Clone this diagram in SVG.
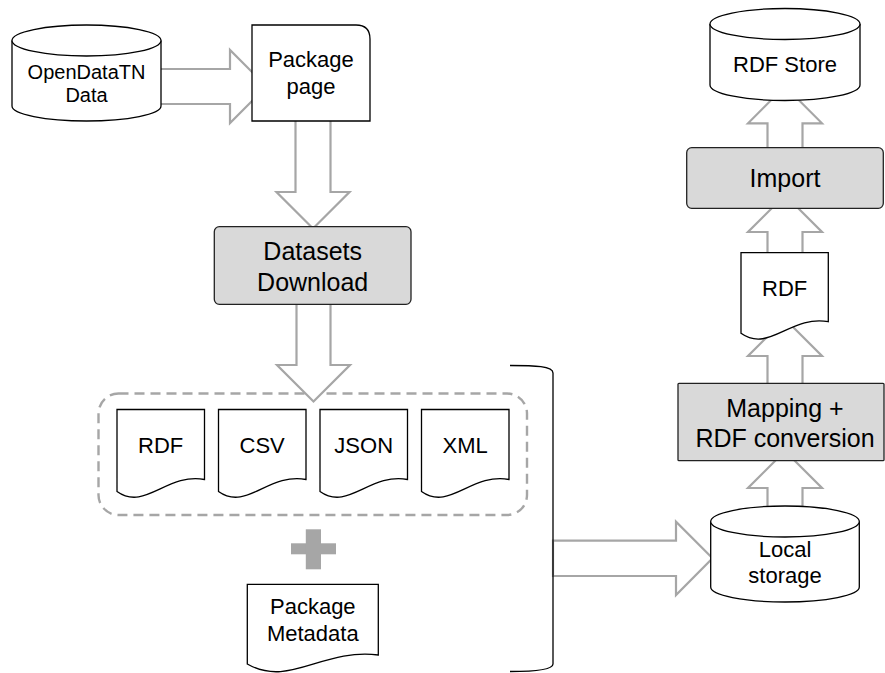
<svg xmlns="http://www.w3.org/2000/svg" width="885" height="673" viewBox="0 0 885 673">
<style>
.arr{fill:#fff;stroke:#a6a6a6;stroke-width:2.2;stroke-linejoin:miter}
.ln{fill:#fff;stroke:#000;stroke-width:1.3}
.box{fill:#d9d9d9;stroke:#222;stroke-width:1.3}
.t{font-family:"Liberation Sans",Arial,sans-serif;fill:#000;text-anchor:middle}
.s20{font-size:20px}
.s22{font-size:22px}
.s25{font-size:25px}
</style>
<rect width="885" height="673" fill="#fff"/>
<g id="group-dashed">
<rect x="98.5" y="393.5" width="428.5" height="121.5" rx="20" ry="20" fill="none" stroke="#a6a6a6" stroke-width="2.4" stroke-dasharray="10,6"/>
</g>
<g id="connectors">
<polygon class="arr" points="150,69 230,69 230,50 266.5,86.5 230,123 230,104 150,104"/>
<polygon class="arr" points="295.5,115 295.5,192 276.5,192 313,228.5 349.5,192 330.5,192 330.5,115"/>
<polygon class="arr" points="296.5,300 296.5,365 277,365 313.5,401.5 350,365 330.5,365 330.5,300"/>
<polygon class="arr" points="553,540.7 676,540.7 676,521.7 712.5,558.3 676,595 676,576 553,576"/>
<polygon class="arr" points="767.5,515 767.5,488 748,488 785,451 822,488 802.5,488 802.5,515"/>
<polygon class="arr" points="767.5,390 767.5,356 748,356 785,319 822,356 802.5,356 802.5,390"/>
<polygon class="arr" points="767.5,262 767.5,232 748,232 785,195 822,232 802.5,232 802.5,262"/>
<polygon class="arr" points="767.5,155 767.5,123.3 748,123.3 785,86.3 822,123.3 802.5,123.3 802.5,155"/>
<path d="M510,365.5 C535,365.5 553,366 553,373 V664 C553,670 535,671.5 510,671.5" fill="none" stroke="#000" stroke-width="1.3"/>
<g fill="#a6a6a6">
<rect x="291" y="543.3" width="45" height="11"/>
<rect x="305.8" y="529.3" width="15.2" height="40"/>
</g>
</g>
<g id="opendatatn">
<path class="ln" d="M12,40.5 V106 A74.5,15 0 0 0 161,106 V40.5"/>
<ellipse class="ln" cx="86.5" cy="40.5" rx="74.5" ry="15.5"/>
<text class="t s20" x="86.5" y="79">OpenDataTN</text>
<text class="t s20" x="86.5" y="102">Data</text>
</g>
<g id="package-page">
<path class="ln" d="M252,25 H356 Q370,25 370,39 V121 H252 Z"/>
<text class="t s22" x="311" y="67">Package</text>
<text class="t s22" x="311" y="94">page</text>
</g>
<g id="datasets-download">
<rect class="box" x="214.3" y="226.7" width="196.7" height="77.6" rx="5" ry="5"/>
<text class="t s25" x="312.7" y="260">Datasets</text>
<text class="t s25" x="312.7" y="290.5">Download</text>
</g>
<g id="doc-rdf">
<path class="ln" d="M117,409.5 H204.5 V479.5 C166.9,472.5 145,511.5 117,491.5 Z"/>
<text class="t s22" x="160.7" y="453.3">RDF</text>
</g>
<g id="doc-csv">
<path class="ln" d="M218.5,409.5 H306 V479.5 C268.4,472.5 246.5,511.5 218.5,491.5 Z"/>
<text class="t s22" x="262.2" y="453.3">CSV</text>
</g>
<g id="doc-json">
<path class="ln" d="M320,409.5 H407.5 V479.5 C369.9,472.5 348,511.5 320,491.5 Z"/>
<text class="t s22" x="363.7" y="453.3">JSON</text>
</g>
<g id="doc-xml">
<path class="ln" d="M421.5,409.5 H509 V479.5 C471.4,472.5 449.5,511.5 421.5,491.5 Z"/>
<text class="t s22" x="465.2" y="453.3">XML</text>
</g>
<g id="package-metadata">
<path class="ln" d="M247.3,584.3 H378.3 V655 C322,648 289.2,688 247.3,664 Z"/>
<text class="t s22" x="312.8" y="614">Package</text>
<text class="t s22" x="312.8" y="640.7">Metadata</text>
</g>
<g id="local-storage">
<path class="ln" d="M710.7,521.5 V587 A74.3,15 0 0 0 859.3,587 V521.5"/>
<ellipse class="ln" cx="785" cy="521.5" rx="74.3" ry="15.5"/>
<text class="t s22" x="785" y="556.7">Local</text>
<text class="t s22" x="785" y="583.3">storage</text>
</g>
<g id="mapping-rdf-conversion">
<rect class="box" x="678" y="383.3" width="206" height="77.4" rx="1" ry="1"/>
<text class="t s25" x="785" y="417">Mapping +</text>
<text class="t s25" x="785" y="447.3">RDF conversion</text>
</g>
<g id="doc-rdf-out">
<path class="ln" d="M741,252.7 H828.3 V321.7 C790.8,314.7 769,353.3 741,333.3 Z"/>
<text class="t s22" x="784.7" y="295.7">RDF</text>
</g>
<g id="import">
<rect class="box" x="686.7" y="147.7" width="196.6" height="60.6" rx="5" ry="5"/>
<text class="t s25" x="785" y="186.7">Import</text>
</g>
<g id="rdf-store">
<path class="ln" d="M710,24 V85 A75,15.5 0 0 0 860,85 V24"/>
<ellipse class="ln" cx="785" cy="24" rx="75" ry="15.5"/>
<text class="t s22" x="785" y="71.7">RDF Store</text>
</g>
</svg>
